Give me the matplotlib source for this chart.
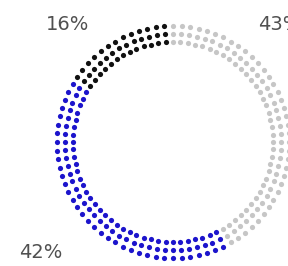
import numpy as np
import matplotlib
matplotlib.use("Agg")
import matplotlib.pyplot as plt

# shares, clockwise from 12 o'clock
labels = ["43%", "42%", "16%"]
values = [43, 42, 16]
colors = ["#c6c6c6", "#1c14cc", "#111111"]

dots_per_ring = 84
radii = [116, 108, 100]
cx, cy = 173, 142

fig = plt.figure(figsize=(2.88, 2.66), dpi=100)
ax = fig.add_axes([0, 0, 1, 1])
ax.set_xlim(0, 288)
ax.set_ylim(266, 0)
ax.axis("off")

bounds = np.cumsum(values) / np.sum(values)
for i in range(dots_per_ring):
    frac = i / dots_per_ring
    k = int(np.searchsorted(bounds, frac, side="right"))
    k = min(k, len(values) - 1)
    a = 2 * np.pi * frac
    for r in radii:
        ax.scatter(cx + r * np.sin(a), cy - r * np.cos(a), s=14,
                   color=colors[k], linewidths=0)

# label positions in pixels (43% runs off the right edge, as in the source)
label_xy = [(280, 24), (41, 252), (68, 24)]
for lab, (x, y) in zip(labels, label_xy):
    ax.text(x, y, lab, fontsize=14, color="#505050", ha="center", va="center")

fig.savefig("out.png", dpi=100)
